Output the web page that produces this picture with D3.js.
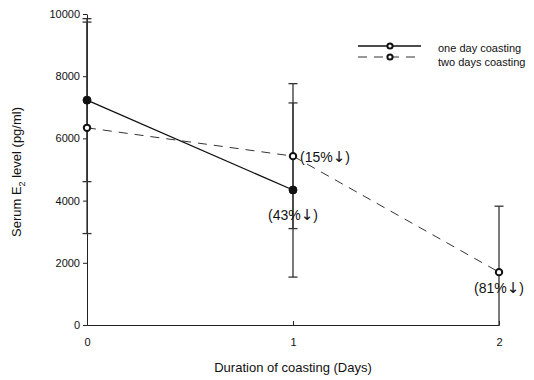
<!DOCTYPE html>
<html>
<head>
<meta charset="utf-8">
<script src="https://cdn.jsdelivr.net/npm/d3@7"></script>
<style>
body { margin: 0; background: #fff; }
text { font-family: "Liberation Sans", Arial, sans-serif; fill: #111; }
</style>
</head>
<body>
<div id="svgCont"></div>
<script>
// values
var days = [0, 1, 2];
var yTicks = [0, 2000, 4000, 6000, 8000, 10000];

var oneDayMean = [7230, 4340];
var oneDaySD = [2620, 2800];

var twoDayMean = [6340, 5430, 1700];
var twoDaySD = [3400, 2330, 2120];

var labels = ["43%", "15%", "81%"];

var W = 534, H = 380;

var x = d3.scaleLinear().domain([0, 2]).range([87, 499]);
var y = d3.scaleLinear().domain([0, 10000]).range([325, 14]);

var svg = d3.select("#svgCont").append("svg")
            .attr("width", W)
            .attr("height", H);

// axes
svg.append("g")
   .attr("transform", "translate(0,325)")
   .call(d3.axisBottom(x).tickValues(days).tickFormat(d3.format("d")).tickSize(-4).tickPadding(13))
   .call(function(g){
       g.select(".domain").attr("stroke", "#222");
       g.selectAll(".tick line").attr("stroke", "#222");
       g.selectAll("text").style("font-size", "11px");
   });

svg.append("g")
   .attr("transform", "translate(87,0)")
   .call(d3.axisLeft(y).tickValues(yTicks).tickFormat(d3.format("d")).tickSize(4).tickPadding(3).tickSizeOuter(0))
   .call(function(g){
       g.select(".domain").attr("stroke", "#222");
       g.selectAll(".tick line").attr("stroke", "#222");
       g.selectAll("text").style("font-size", "11px");
   });

// axis titles
svg.append("text")
   .attr("x", 293).attr("y", 372)
   .attr("text-anchor", "middle")
   .style("font-size", "13px")
   .text("Duration of coasting (Days)");

var yt = svg.append("text")
   .attr("transform", "translate(21,172) rotate(-90)")
   .attr("text-anchor", "middle")
   .style("font-size", "13px");
yt.append("tspan").text("Serum E");
yt.append("tspan").attr("dy", 4).style("font-size", "9px").text("2");
yt.append("tspan").attr("dy", -4).text(" level (pg/ml)");

function errBars(mean, sd) {
    var g = svg.append("g");
    mean.forEach(function(m, i){
        var lo = Math.max(0, m - sd[i]), hi = m + sd[i];
        var cx = x(days[i]);
        g.append("line")
         .attr("x1", cx).attr("x2", cx)
         .attr("y1", y(lo)).attr("y2", y(hi))
         .attr("stroke", "#333").attr("stroke-width", 1.3);
        g.append("line")
         .attr("x1", cx - 4.5).attr("x2", cx + 4.5)
         .attr("y1", y(hi)).attr("y2", y(hi))
         .attr("stroke", "#333").attr("stroke-width", 1.3);
        if (m - sd[i] > 0) {
            g.append("line")
             .attr("x1", cx - 4.5).attr("x2", cx + 4.5)
             .attr("y1", y(lo)).attr("y2", y(lo))
             .attr("stroke", "#333").attr("stroke-width", 1.3);
        }
    });
}

errBars(twoDayMean, twoDaySD);
errBars(oneDayMean, oneDaySD);

var line = d3.line()
             .x(function(d, i){ return x(days[i]); })
             .y(function(d){ return y(d); });

svg.append("path")
   .datum(twoDayMean)
   .attr("d", line)
   .attr("fill", "none")
   .attr("stroke", "#333")
   .attr("stroke-width", 1)
   .attr("stroke-dasharray", "9,7");

svg.append("path")
   .datum(oneDayMean)
   .attr("d", line)
   .attr("fill", "none")
   .attr("stroke", "#111")
   .attr("stroke-width", 1.3);

svg.selectAll(".pt2")
   .data(twoDayMean)
   .enter().append("circle")
   .attr("cx", function(d, i){ return x(days[i]); })
   .attr("cy", function(d){ return y(d); })
   .attr("r", 3.2)
   .attr("fill", "#fff")
   .attr("stroke", "#111")
   .attr("stroke-width", 2);

svg.selectAll(".pt1")
   .data(oneDayMean)
   .enter().append("circle")
   .attr("cx", function(d, i){ return x(days[i]); })
   .attr("cy", function(d){ return y(d); })
   .attr("r", 4)
   .attr("fill", "#111")
   .attr("stroke", "#111")
   .attr("stroke-width", 1);

// percentage labels
function pctLabel(px, py, anchor, txt) {
    var t = svg.append("text")
       .attr("x", px).attr("y", py)
       .attr("text-anchor", anchor)
       .style("font-size", "14px");
    t.append("tspan").text("(" + txt);
    t.append("tspan").style("font-family", "DejaVu Sans").style("font-size", "15px").text("\u2193");
    t.append("tspan").text(")");
}
pctLabel(x(1), y(oneDayMean[1]) + 30, "middle", labels[0]);
pctLabel(x(1) + 7, y(twoDayMean[1]) + 6, "start", labels[1]);
pctLabel(x(2), y(twoDayMean[2]) + 21, "middle", labels[2]);

// legend
var lg = svg.append("g");
lg.append("line").attr("x1", 358).attr("x2", 421).attr("y1", 46).attr("y2", 46)
  .attr("stroke", "#111").attr("stroke-width", 1.3);
lg.append("circle").attr("cx", 390).attr("cy", 46).attr("r", 2.6)
  .attr("fill", "#fff").attr("stroke", "#111").attr("stroke-width", 2);
lg.append("line").attr("x1", 358).attr("x2", 421).attr("y1", 57).attr("y2", 57)
  .attr("stroke", "#333").attr("stroke-width", 1).attr("stroke-dasharray", "9,7");
lg.append("circle").attr("cx", 390).attr("cy", 57).attr("r", 2.6)
  .attr("fill", "#fff").attr("stroke", "#111").attr("stroke-width", 2);
lg.append("text").attr("x", 438).attr("y", 52).style("font-size", "11px").text("one day coasting");
lg.append("text").attr("x", 438).attr("y", 66).style("font-size", "11px").text("two days coasting");
</script>
</body>
</html>
